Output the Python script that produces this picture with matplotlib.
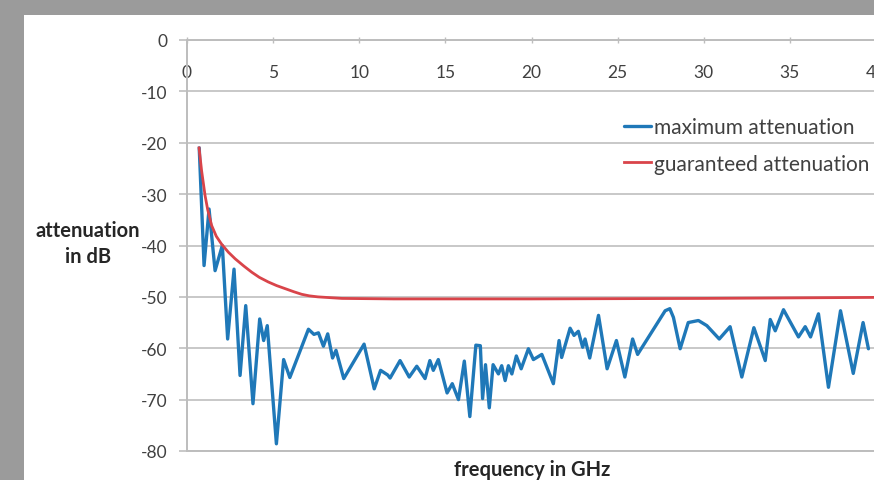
import matplotlib
matplotlib.use("Agg")
import matplotlib.pyplot as plt
from matplotlib.patches import Rectangle

plt.rcParams['font.family'] = ['Lato', 'DejaVu Sans']
plt.rcParams['axes.unicode_minus'] = False

# Measured attenuation of the shielding (frequency in GHz, attenuation in dB)
max_freq = [0.71, 0.99, 1.28, 1.63, 2.05, 2.36, 2.73, 3.08, 3.41, 3.83, 4.22, 4.45, 4.66,
            5.19, 5.61, 5.97, 7.05, 7.37, 7.63, 7.92, 8.17, 8.45, 8.65, 9.10, 10.28,
            10.87, 11.24, 11.65, 11.79, 12.37, 12.90, 13.34, 13.82, 14.10, 14.30, 14.59,
            15.10, 15.40, 15.76, 16.10, 16.42, 16.77, 17.03, 17.16, 17.33, 17.55, 17.77,
            18.08, 18.27, 18.47, 18.66, 18.86, 19.12, 19.40, 19.82, 20.11, 20.60, 21.27,
            21.60, 21.75, 22.24, 22.47, 22.72, 22.97, 23.11, 23.38, 23.89, 24.39, 24.93,
            25.42, 25.87, 26.16, 27.76, 28.03, 28.24, 28.63, 29.10, 29.69, 30.18, 30.90,
            31.53, 32.21, 32.91, 33.57, 33.86, 34.15, 34.63, 35.50, 35.89, 36.20, 36.66,
            37.24, 37.94, 38.68, 39.25, 39.56]
max_att = [-21.0, -43.9, -32.9, -44.9, -40.0, -58.2, -44.6, -65.3, -51.7, -70.8, -54.3, -58.5, -55.6,
           -78.6, -62.2, -65.7, -56.3, -57.3, -57.0, -59.6, -57.2, -61.9, -60.4, -65.9, -59.2,
           -67.9, -64.3, -65.2, -65.8, -62.4, -65.6, -63.5, -65.9, -62.4, -64.3, -62.2,
           -68.7, -66.9, -70.0, -62.5, -73.3, -59.4, -59.5, -69.8, -63.2, -71.6, -63.2,
           -65.0, -63.4, -66.3, -63.4, -65.0, -61.5, -64.0, -60.1, -62.2, -61.2, -66.9,
           -58.5, -61.8, -56.1, -57.5, -56.7, -59.8, -58.2, -61.9, -53.6, -64.0, -58.5,
           -65.6, -58.2, -61.2, -52.7, -52.3, -54.0, -60.1, -55.0, -54.6, -55.6, -58.2,
           -55.8, -65.6, -56.0, -62.4, -54.4, -56.6, -52.5, -57.8, -55.8, -57.8, -53.3,
           -67.6, -52.7, -64.9, -55.0, -60.1]

guar_freq = [0.70, 0.85, 1.05, 1.20, 1.43, 1.70, 2.00, 2.40, 2.80, 3.30, 3.76, 4.20, 4.72,
             5.20, 5.70, 6.20, 6.66, 7.10, 7.60, 9.00, 12.0, 20.0, 30.0, 40.0]
guar_att = [-21.0, -25.5, -30.3, -33.0, -36.1, -38.2, -39.7, -41.3, -42.6, -44.0, -45.2, -46.2, -47.1,
            -47.8, -48.4, -49.0, -49.5, -49.8, -50.0, -50.3, -50.4, -50.4, -50.3, -50.1]

x_ticks = list(range(0, 41, 5))
y_ticks = list(range(-80, 1, 10))

W, H = 874, 481
fig = plt.figure(figsize=(W / 100, H / 100), dpi=100, facecolor='#9b9b9b')
fig.patches.append(Rectangle((24 / W, 0), 1, 1 - 16 / H, transform=fig.transFigure,
                             facecolor='white', edgecolor='none', zorder=-1))

ax = fig.add_axes([187 / W, 1 - 452 / H, (876 - 187) / W, (452 - 41) / H])
ax.set_facecolor('white')
ax.set_xlim(0, 40)
ax.set_ylim(-80, 0)
ax.set_xticks(x_ticks)
ax.set_yticks(y_ticks)

grid_c = '#c8c8c8'
ax.yaxis.grid(True, color=grid_c, lw=1.4)
ax.set_axisbelow(True)
for s in ('left', 'top', 'bottom'):
    ax.spines[s].set_color('#bdbdbd')
    ax.spines[s].set_linewidth(1.4)
ax.spines['right'].set_visible(False)

ax.xaxis.tick_top()
ax.tick_params(axis='x', direction='inout', length=5, width=1, color='#bdbdbd',
               pad=-31, labelsize=12.5, labelcolor='#404040')
ax.tick_params(axis='y', direction='out', length=6, width=1.4, color=grid_c,
               pad=8, labelsize=12.5, labelcolor='#404040')

ax.plot(max_freq, max_att, color='#1f78b8', lw=2.4, solid_joinstyle='round',
        solid_capstyle='round', label='maximum attenuation', zorder=3)
ax.plot(guar_freq, guar_att, color='#d9444a', lw=2.0, solid_joinstyle='round',
        label='guaranteed attenuation', zorder=4)

ax.legend(loc='upper left', bbox_to_anchor=(624 / W, 1 - 118 / H),
          bbox_transform=fig.transFigure, frameon=False, fontsize=15,
          handlelength=1.3, handletextpad=0.12, labelspacing=0.8, borderpad=0,
          borderaxespad=0, labelcolor='#404040')

fig.text(88 / W, 1 - 244 / H, 'attenuation\nin dB', ha='center', va='center',
         multialignment='center', fontsize=14.5, fontweight='bold', color='#262626',
         linespacing=1.4)
fig.text(532 / W, 1 - 470 / H, 'frequency in GHz', ha='center', va='center',
         fontsize=14.5, fontweight='bold', color='#262626')

fig.savefig('out.png', dpi=100, facecolor=fig.get_facecolor())
